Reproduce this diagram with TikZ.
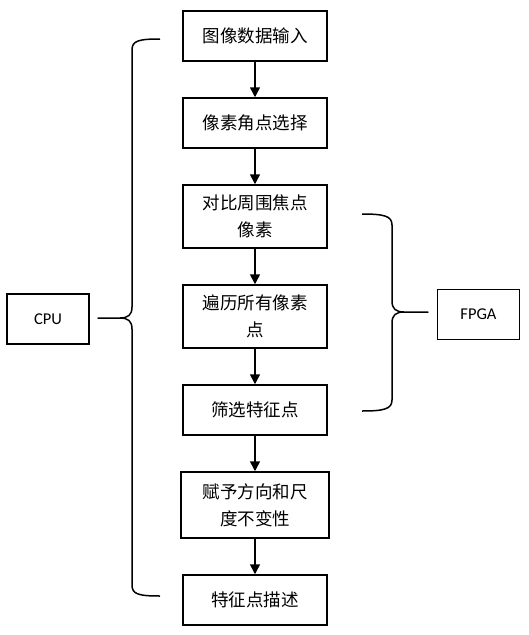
\documentclass[tikz,border=0pt]{standalone}
\usepackage{fontspec}
\newfontfamily\cjk{Noto Sans CJK SC}
\newfontfamily\latinsans{Carlito}
\usetikzlibrary{arrows.meta, positioning}

\begin{document}
\begin{tikzpicture}[
        x=1pt, y=-1pt,
        stage/.style={rectangle, draw, line width=1.5pt, minimum width=144pt, minimum height=50pt, align=center, inner sep=2pt, font=\cjk\fontsize{17.5}{27}\selectfont},
        unit/.style={rectangle, draw, line width=1.5pt, minimum width=82pt, minimum height=50pt, font=\latinsans\fontsize{16.5}{20}\selectfont},
        arrow/.style={-{Triangle[width=10pt, length=10pt]}, line width=1.5pt},
        brace/.style={line width=1.5pt, line join=round},
        node distance=35.5pt
    ]
        \useasboundingbox (0,0) rectangle (528,635);

        % Kolejne etapy
        \node[stage] (input) at (255,36) {图像数据输入};
        \node[stage, below=of input] (corner) {像素角点选择};
        \node[stage, minimum height=63pt, below=of corner] (compare) {对比周围焦点\\像素};
        \node[stage, minimum height=63pt, below=of compare] (traverse) {遍历所有像素\\点};
        \node[stage, below=of traverse] (filter) {筛选特征点};
        \node[stage, minimum height=66pt, minimum width=148pt, below=of filter] (orient) {赋予方向和尺\\度不变性};
        \node[stage, below=of orient] (describe) {特征点描述};

        % Jednostki
        \node[unit] (cpu) at (48,319) {CPU};
        \node[unit] (fpga) at (478.5,314.5) {FPGA};

        \draw[arrow] (input) -- (corner);
        \draw[arrow] (corner) -- (compare);
        \draw[arrow] (compare) -- (traverse);
        \draw[arrow] (traverse) -- (filter);
        \draw[arrow] (filter) -- (orient);
        \draw[arrow] (orient) -- (describe);

        % Nawias CPU
        \coordinate (cpu top) at (160,39);
        \coordinate (cpu tip) at (98,318);
        \coordinate (cpu bottom) at (160,596);
        \draw[brace] (cpu top) .. controls (138,39) and (132,41) .. (132,50) -- (132,307)
            .. controls (132,315) and (128,318) .. (120,318) -- (cpu tip) -- (120,318)
            .. controls (128,318) and (132,321) .. (132,329) -- (132,585)
            .. controls (132,594) and (138,596) .. (cpu bottom);

        % Nawias FPGA
        \coordinate (fpga top) at (362,214);
        \coordinate (fpga tip) at (428,312);
        \coordinate (fpga bottom) at (362,411);
        \draw[brace] (fpga top) .. controls (384,214) and (392,216) .. (392,225) -- (392,301)
            .. controls (392,309) and (396,312) .. (404,312) -- (fpga tip) -- (404,312)
            .. controls (396,312) and (392,315) .. (392,323) -- (392,400)
            .. controls (392,409) and (384,411) .. (fpga bottom);

    \end{tikzpicture}
\end{document}
